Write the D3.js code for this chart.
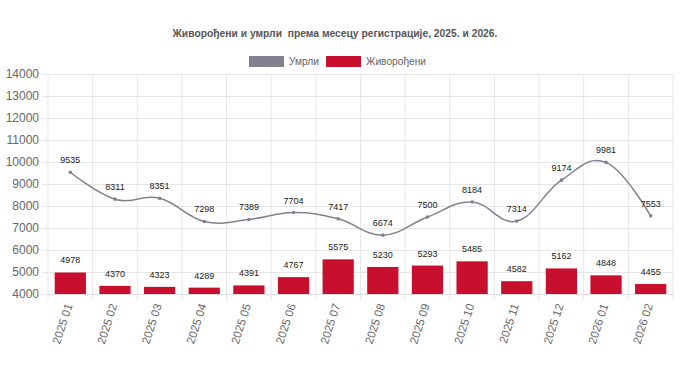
<!DOCTYPE html>
<html>
<head>
<meta charset="utf-8">
<script src="https://cdn.jsdelivr.net/npm/d3@7"></script>
<style>
  body { margin: 0; background: #fff; }
  svg { display: block; font-family: "Liberation Sans", Arial, sans-serif; }
</style>
</head>
<body>
<div id="main"></div>
<script>
const months = ['2025 01','2025 02','2025 03','2025 04','2025 05','2025 06','2025 07',
  '2025 08','2025 09','2025 10','2025 11','2025 12','2026 01','2026 02'];
const deaths = [9535, 8311, 8351, 7298, 7389, 7704, 7417, 6674, 7500, 8184, 7314, 9174, 9981, 7553];
const births = [4978, 4370, 4323, 4289, 4391, 4767, 5575, 5230, 5293, 5485, 4582, 5162, 4848, 4455];
const yTicks = [4000, 5000, 6000, 7000, 8000, 9000, 10000, 11000, 12000, 13000, 14000];

const width = 688, height = 387;
const margin = {top: 74, right: 15, bottom: 93, left: 48};
const gray = '#838190', red = '#c8102e';

const svg = d3.select('#main').append('svg').attr('width', width).attr('height', height);

const x = d3.scaleBand().domain(months).range([margin.left, width - margin.right]).paddingInner(0.3).paddingOuter(0.15);
const xc = d3.scalePoint().domain(months).range([margin.left, width - margin.right]).padding(0.5);
const y = d3.scaleLinear().domain([4000, 14000]).range([height - margin.bottom, margin.top]);

// title
svg.append('text').attr('x', 335).attr('y', 37).attr('text-anchor', 'middle')
  .attr('font-size', 10.3).attr('font-weight', 'bold').attr('fill', '#555')
  .style('white-space', 'pre')
  .text('Живорођени и умрли  према месецу регистрације, 2025. и 2026.');

// legend
const legend = [{name: 'Умрли', color: gray, x: 249}, {name: 'Живорођени', color: red, x: 326}];
legend.forEach(d => {
  svg.append('rect').attr('x', d.x).attr('y', 56).attr('width', 35).attr('height', 11).attr('fill', d.color);
  svg.append('text').attr('x', d.x + 40).attr('y', 65).attr('font-size', 10.2).attr('fill', '#666').text(d.name);
});

// horizontal grid + y axis
const gy = svg.append('g').attr('transform', `translate(${margin.left},0)`)
  .call(d3.axisLeft(y).tickValues(yTicks).tickSize(6).tickPadding(3).tickFormat(d3.format('d')));
gy.select('.domain').remove();
gy.selectAll('.tick line').attr('x1', -6).attr('x2', width - margin.right - margin.left).attr('stroke', '#e6e6e6');
gy.selectAll('.tick text').attr('font-size', 12).attr('fill', '#666').attr('font-family', '"Liberation Sans", Arial, sans-serif');

// vertical grid at category boundaries
const bounds = d3.range(months.length + 1).map(i => margin.left + i * (width - margin.left - margin.right) / months.length);
svg.append('g').selectAll('line').data(bounds).join('line')
  .attr('x1', d => d).attr('x2', d => d).attr('y1', margin.top).attr('y2', height - margin.bottom + 6)
  .attr('stroke', '#e6e6e6');

// x axis
const gx = svg.append('g').attr('transform', `translate(0,${height - margin.bottom})`)
  .call(d3.axisBottom(xc).tickSize(0).tickPadding(0));
gx.select('.domain').attr('stroke', '#ddd');
gx.selectAll('.tick text')
  .attr('font-size', 11.5).attr('fill', '#666').attr('font-family', '"Liberation Sans", Arial, sans-serif')
  .attr('text-anchor', 'end').attr('dy', '0.35em')
  .attr('transform', 'translate(-2,10) rotate(-72)');

// bars
svg.append('g').selectAll('rect').data(births).join('rect')
  .attr('x', (d, i) => x(months[i])).attr('width', x.bandwidth())
  .attr('y', d => y(d)).attr('height', d => y(4000) - y(d))
  .attr('fill', red);

// line
const line = d3.line().x((d, i) => xc(months[i])).y(d => y(d)).curve(d3.curveCardinal.tension(-0.2));
svg.append('path').datum(deaths).attr('d', line).attr('fill', 'none').attr('stroke', gray).attr('stroke-width', 1.5);
svg.append('g').selectAll('circle').data(deaths).join('circle')
  .attr('cx', (d, i) => xc(months[i])).attr('cy', d => y(d)).attr('r', 1.8).attr('fill', gray);

// data labels
const lab = svg.append('g').attr('font-size', 9).attr('fill', '#222').attr('text-anchor', 'middle');
lab.selectAll('.ld').data(deaths).join('text').attr('class', 'ld')
  .attr('x', (d, i) => xc(months[i])).attr('y', d => y(d) - 9).text(d => d);
lab.selectAll('.lb').data(births).join('text').attr('class', 'lb')
  .attr('x', (d, i) => xc(months[i])).attr('y', d => y(d) - 9).text(d => d);
</script>
</body>
</html>
